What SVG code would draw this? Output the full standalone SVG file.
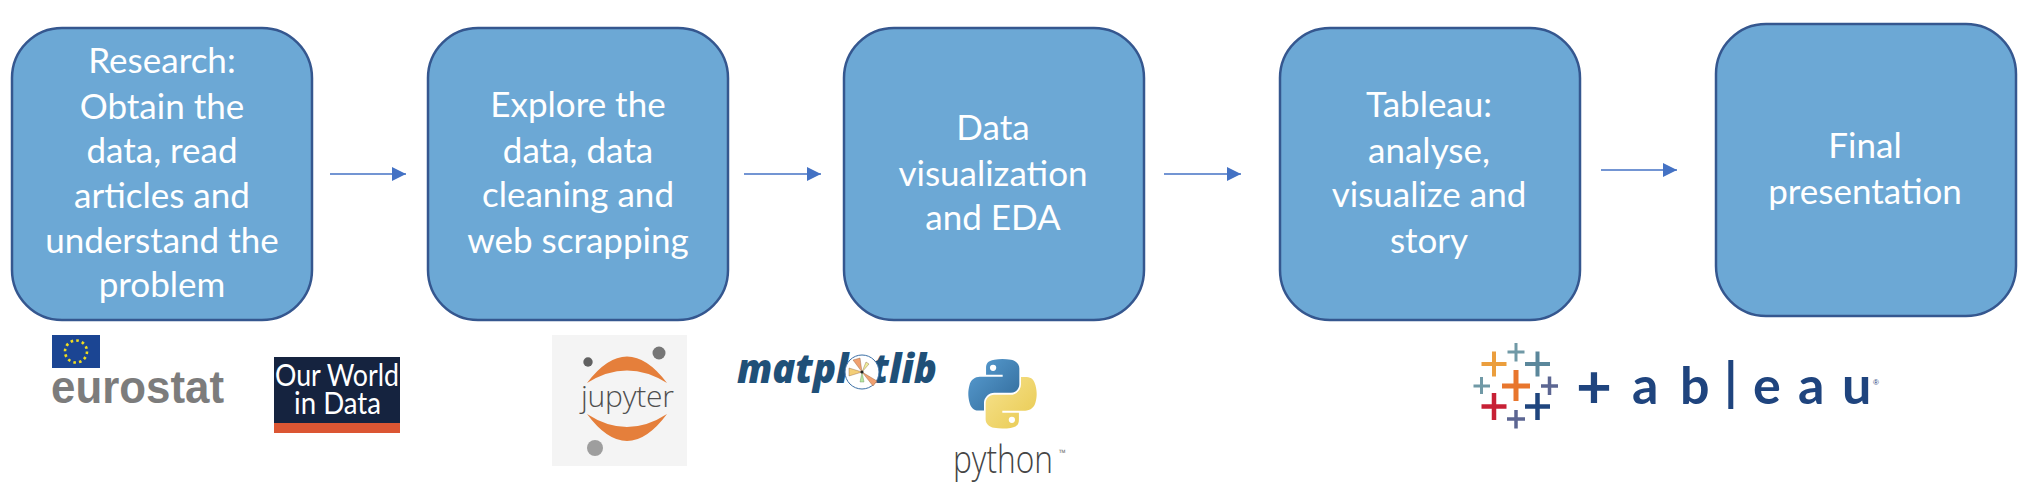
<svg xmlns="http://www.w3.org/2000/svg" width="2032" height="492" viewBox="0 0 2032 492">
<style>
.box{fill:#6CA8D5;stroke:#35578F;stroke-width:2.5}
.t{font-family:Lato,"Open Sans",sans-serif;font-size:35px;fill:#fff;text-anchor:middle}
.c{fill:none;stroke:#4472C4;stroke-width:1.5;marker-end:url(#ah)}
</style>
<defs>
<marker id="ah" markerUnits="userSpaceOnUse" markerWidth="14" markerHeight="14" refX="14" refY="7" orient="auto"><path d="M0 0L14 7L0 14Z" fill="#4472C4"/></marker>
<g id="py"><path d="M54.9 0C50.3 0 45.9.4 42.1 1.1C30.8 3.1 28.8 7.3 28.8 15V25.1H55.3V28.5H18.9C11.2 28.5 4.4 33.1 2.3 41.9C-.1 52-.2 58.3 2.3 68.9C4.2 76.7 8.7 82.3 16.4 82.3H25.5V70.2C25.5 61.5 33.1 53.8 42.1 53.8H68.6C76 53.8 81.9 47.7 81.9 40.3V15C81.9 7.8 75.8 2.4 68.6 1.2C64 .4 59.3 0 54.9 0Z"/></g>
<linearGradient id="pb" x1="0" y1="0" x2="1" y2="1"><stop offset="0" stop-color="#5A9FD4"/><stop offset="1" stop-color="#306998"/></linearGradient>
<linearGradient id="py2" x1="0" y1="0" x2="1" y2="1"><stop offset="0" stop-color="#E8C94F"/><stop offset="1" stop-color="#F7E38F"/></linearGradient>
</defs>
<rect width="2032" height="492" fill="#fff"/>
<g id="connectors">
<path class="c" d="M330 174H406"/>
<path class="c" d="M744 174H821"/>
<path class="c" d="M1164 174H1241"/>
<path class="c" d="M1601 170H1677"/>
</g>
<g id="node-research"><rect class="box" x="12" y="28" width="300" height="292" rx="50"/>
<text class="t"><tspan x="162" y="73">Research:</tspan><tspan x="162" y="119">Obtain the</tspan><tspan x="162" y="163">data, read</tspan><tspan x="162" y="208">articles and</tspan><tspan x="162" y="253">understand the</tspan><tspan x="162" y="297">problem</tspan></text></g>
<g id="node-explore"><rect class="box" x="428" y="28" width="300" height="292" rx="50"/>
<text class="t"><tspan x="578" y="117">Explore the</tspan><tspan x="578" y="163">data, data</tspan><tspan x="578" y="207">cleaning and</tspan><tspan x="578" y="253">web scrapping</tspan></text></g>
<g id="node-eda"><rect class="box" x="844" y="28" width="300" height="292" rx="50"/>
<text class="t"><tspan x="993" y="140">Data</tspan><tspan x="993" y="186">visualization</tspan><tspan x="993" y="230">and EDA</tspan></text></g>
<g id="node-tableau"><rect class="box" x="1280" y="28" width="300" height="292" rx="50"/>
<text class="t"><tspan x="1429" y="117">Tableau:</tspan><tspan x="1429" y="163">analyse,</tspan><tspan x="1429" y="207">visualize and</tspan><tspan x="1429" y="253">story</tspan></text></g>
<g id="node-final"><rect class="box" x="1716" y="24" width="300" height="292" rx="50"/>
<text class="t"><tspan x="1865" y="158">Final</tspan><tspan x="1865" y="204">presentation</tspan></text></g>
<g id="logo-eurostat">
<rect x="52" y="335" width="48" height="33" fill="#1B4593"/>
<circle cx="76" cy="351.5" r="11" fill="none" stroke="#F2DD1E" stroke-width="2.6" stroke-dasharray="2.6 3.15"/>
<text x="51" y="403" font-family="'Liberation Sans',Arial,sans-serif" font-weight="700" font-size="46" fill="#7C7C7C" textLength="173" lengthAdjust="spacingAndGlyphs">eurostat</text>
</g>
<g id="logo-owid">
<rect x="274" y="357" width="126" height="76" fill="#15233F"/>
<rect x="274" y="423" width="126" height="10" fill="#DB5633"/>
<text font-family="Lato,sans-serif" font-size="31" fill="#fff"><tspan x="275" y="386" textLength="124" lengthAdjust="spacingAndGlyphs">Our World</tspan><tspan x="294" y="414" textLength="87" lengthAdjust="spacingAndGlyphs">in Data</tspan></text>
</g>
<g id="logo-jupyter">
<rect x="552" y="335" width="135" height="131" fill="#F4F4F4"/>
<path d="M587 383Q627 330 667 383Q627 358 587 383Z" fill="#E57F3B"/>
<path d="M587 414Q627 468 667 414Q627 440 587 414Z" fill="#E57F3B"/>
<circle cx="659" cy="353" r="6.5" fill="#767676"/><circle cx="588" cy="362" r="4.7" fill="#616161"/><circle cx="595" cy="448" r="8" fill="#9E9E9E"/>
<text x="581" y="407" font-family="'Open Sans',sans-serif" font-weight="300" font-size="30" fill="#4E4E4E" textLength="93">jupyter</text>
</g>
<g id="logo-matplotlib">
<text x="737" y="383" font-family="'Open Sans','DejaVu Sans',sans-serif" font-weight="800" font-style="italic" font-size="40" fill="#1F5078" textLength="200" lengthAdjust="spacingAndGlyphs">matpl<tspan fill="none">o</tspan>tlib</text>
<circle cx="862" cy="372" r="17" fill="#fff" stroke="#3A6EA5" stroke-width="1"/>
<path d="M862 372L853 360L860 358Z" fill="#F0A070" stroke="#8a5a3a" stroke-width=".4"/>
<path d="M862 372L849 368L849 376Z" fill="#F3CE78" stroke="#8a5a3a" stroke-width=".4"/>
<path d="M862 372L873 386L877 381Z" fill="#F0A070" stroke="#8a5a3a" stroke-width=".4"/>
<path d="M862 372L866 362L869 364Z" fill="#EDEE9A" stroke="#8a5a3a" stroke-width=".4"/>
<path d="M862 372L860 382L864 382Z" fill="#B6E6A0" stroke="#6a8a5a" stroke-width=".4"/>
<circle cx="862" cy="372" r="1.6" fill="#222"/>
</g>
<g id="logo-python">
<g transform="translate(968 359) scale(.627)">
<use href="#py" fill="url(#pb)"/><circle cx="40" cy="14" r="5" fill="#fff"/>
<g transform="rotate(180 55 55.5)"><use href="#py" fill="url(#py2)"/><circle cx="40" cy="14" r="5" fill="#fff"/></g>
</g>
<text x="953" y="473" font-family="'Open Sans',sans-serif" font-weight="300" font-size="38" fill="#454545" textLength="100" lengthAdjust="spacingAndGlyphs">python</text>
<text x="1059" y="456" font-family="'Open Sans',sans-serif" font-size="9" fill="#777">™</text>
</g>
<g id="logo-tableau" fill="none">
<path d="M1494 351.500V376.500M1481.500 364H1506.500" stroke="#EB9E3D" stroke-width="4"/>
<path d="M1516 343V361.500M1507.500 352H1524.500" stroke="#7099A6" stroke-width="3"/>
<path d="M1537.500 351.500V376.500M1525 364H1550" stroke="#5B879B" stroke-width="4"/>
<path d="M1516 370V401M1502 386H1530" stroke="#E8762D" stroke-width="5"/>
<path d="M1481.500 377V394M1473.500 386H1490" stroke="#7099A6" stroke-width="3"/>
<path d="M1549.500 376.500V395M1541 386H1558" stroke="#5C6692" stroke-width="3.500"/>
<path d="M1494 393V420M1481.500 406.500H1506.500" stroke="#C72035" stroke-width="4.500"/>
<path d="M1537.500 393V420M1525 406.500H1550" stroke="#1F457E" stroke-width="4.500"/>
<path d="M1516 410V428.500M1507 419H1525" stroke="#5C6692" stroke-width="3.500"/>
<text font-family="Lato,sans-serif" font-weight="700" font-size="52" fill="#1F447E" stroke="none"><tspan x="1576" y="408" font-size="62">+</tspan><tspan x="1632" y="404">a</tspan><tspan x="1680" y="404">b</tspan><tspan x="1724" y="400">|</tspan><tspan x="1753" y="404">e</tspan><tspan x="1798" y="404">a</tspan><tspan x="1842" y="404">u</tspan></text>
<text x="1873" y="385" font-family="'Liberation Sans',sans-serif" font-size="8" fill="#1F447E" stroke="none">®</text>
</g>
</svg>
